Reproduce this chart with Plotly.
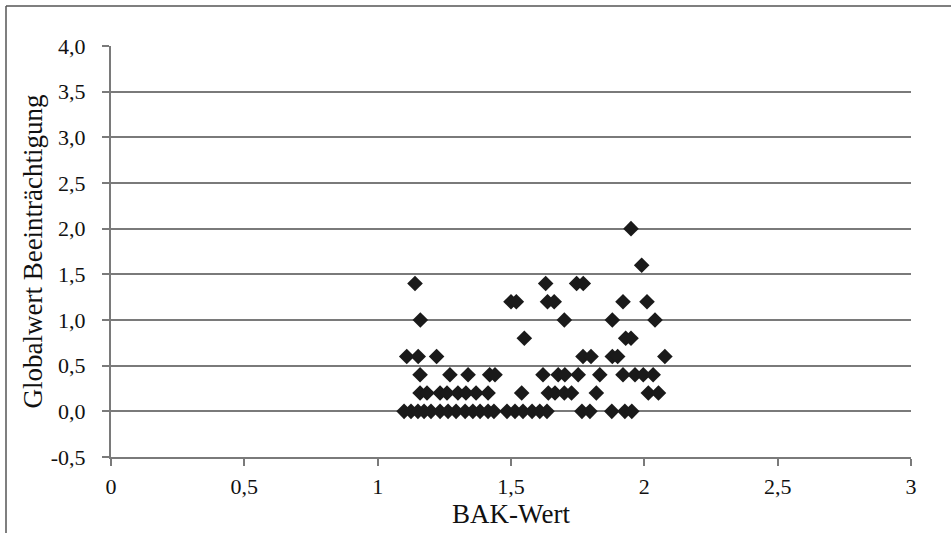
import plotly.graph_objects as go

# ---- data ----
bak_y00 = [1.099, 1.125, 1.151, 1.174, 1.200, 1.234, 1.264, 1.294, 1.328, 1.357,
           1.384, 1.414, 1.436, 1.485, 1.515, 1.545, 1.579, 1.608, 1.635, 1.766,
           1.796, 1.878, 1.927, 1.953]
bak_y02 = [1.159, 1.185, 1.234, 1.260, 1.301, 1.331, 1.369, 1.414, 1.54,
           1.64, 1.665, 1.70, 1.727, 1.82, 2.015, 2.053]
bak_y04 = [1.159, 1.271, 1.339, 1.42, 1.44, 1.62, 1.677, 1.702, 1.752, 1.833,
           1.92, 1.965, 1.996, 2.033]
bak_y06 = [1.109, 1.152, 1.221, 1.77, 1.80, 1.88, 1.90, 2.077]
bak_y08 = [1.55, 1.93, 1.95]
bak_y10 = [1.16, 1.70, 1.88, 2.04]
bak_y12 = [1.50, 1.52, 1.637, 1.662, 1.92, 2.01]
bak_y14 = [1.14, 1.63, 1.746, 1.771]
bak_y16 = [1.99]
bak_y20 = [1.95]

groups = [(0.0, bak_y00), (0.2, bak_y02), (0.4, bak_y04), (0.6, bak_y06),
          (0.8, bak_y08), (1.0, bak_y10), (1.2, bak_y12), (1.4, bak_y14),
          (1.6, bak_y16), (2.0, bak_y20)]

bak_wert = []
globalwert = []
for gv, xs in groups:
    for xv in xs:
        bak_wert.append(xv)
        globalwert.append(gv)

y_tickvals = [-0.5, 0.0, 0.5, 1.0, 1.5, 2.0, 2.5, 3.0, 3.5, 4.0]
y_ticktext = ["-0,5", "0,0", "0,5", "1,0", "1,5", "2,0", "2,5", "3,0", "3,5", "4,0"]
x_tickvals = [0, 0.5, 1, 1.5, 2, 2.5, 3]
x_ticktext = ["0", "0,5", "1", "1,5", "2", "2,5", "3"]

FONT = "Liberation Serif, Times New Roman, serif"
GRID = "#7a7a7a"

fig = go.Figure()
fig.add_trace(go.Scatter(
    x=bak_wert, y=globalwert, mode="markers",
    marker=dict(symbol="diamond", size=12, color="#1a1a1a",
                line=dict(width=0)),
    showlegend=False, hoverinfo="x+y",
))

fig.update_layout(
    width=951, height=533,
    margin=dict(l=111, r=40, t=46, b=76),
    paper_bgcolor="white", plot_bgcolor="white",
    font=dict(family=FONT, size=22, color="#111111"),
    xaxis=dict(
        range=[0, 3], tickvals=x_tickvals, ticktext=x_ticktext,
        showgrid=False, zeroline=False, automargin=False,
        showline=True, linecolor=GRID, linewidth=2,
        ticks="outside", ticklen=7, tickwidth=2, tickcolor=GRID,
        ticklabelstandoff=2,
        title=dict(text="BAK-Wert", font=dict(family=FONT, size=27), standoff=6),
    ),
    yaxis=dict(
        range=[-0.5, 4.0], tickvals=y_tickvals, ticktext=y_ticktext,
        showgrid=True, gridcolor=GRID, gridwidth=2,
        zeroline=False, automargin=False,
        showline=True, linecolor=GRID, linewidth=2,
        ticks="outside", ticklen=7, tickwidth=2, tickcolor=GRID,
        ticklabelstandoff=12,
        title=dict(text="Globalwert Beeinträchtigung",
                   font=dict(family=FONT, size=27), standoff=0),
    ),
    shapes=[
        dict(type="line", xref="paper", yref="paper",
             x0=-0.13125, x1=1.2, y0=1.0973, y1=1.0973,
             line=dict(color="#555555", width=1.5)),
        dict(type="line", xref="paper", yref="paper",
             x0=-0.13125, x1=-0.13125, y0=1.0973, y1=-0.3,
             line=dict(color="#555555", width=1.5)),
    ],
)

fig.write_html("out.html")
